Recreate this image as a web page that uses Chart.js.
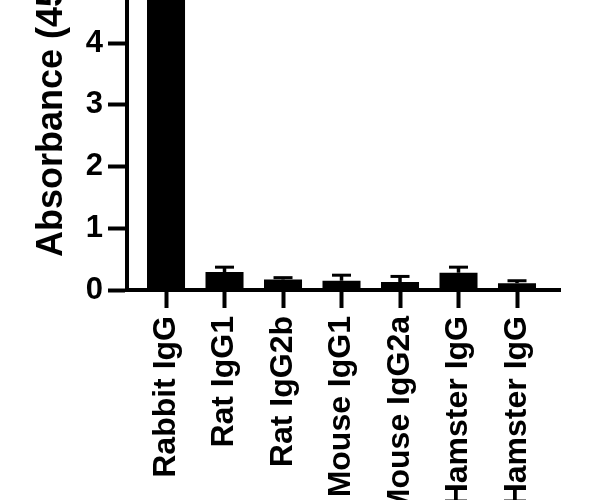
<!DOCTYPE html>
<html>
<head>
<meta charset="utf-8">
<script src="https://cdn.jsdelivr.net/npm/chart.js@4"></script>
<style>
  html, body { margin: 0; padding: 0; width: 600px; height: 500px; overflow: hidden; background: #fff; }
  #c { position: absolute; left: 0; top: -180px; }
</style>
</head>
<body>
<canvas id="c" width="600" height="680"></canvas>
<script>
const categories = ['Rabbit IgG', 'Rat IgG1', 'Rat IgG2b', 'Mouse IgG1', 'Mouse IgG2a', 'Hamster IgG', 'Hamster IgG'];
const absorbance = [6.2, 0.29, 0.17, 0.15, 0.13, 0.28, 0.11];
const errorUp = [0.3, 0.08, 0.03, 0.09, 0.09, 0.09, 0.04];
const yTicks = [0, 1, 2, 3, 4, 5, 6, 7];
const yTitle = 'Absorbance (450 nm)';

const FONT = "'Liberation Sans', Arial, sans-serif";

const errorBars = {
  id: 'errorBars',
  afterDatasetsDraw(chart) {
    const ctx = chart.ctx;
    const xs = chart.scales.x, ys = chart.scales.y;
    ctx.save();
    ctx.strokeStyle = '#000';
    absorbance.forEach((v, i) => {
      const x = xs.getPixelForValue(i);
      const yb = ys.getPixelForValue(v);
      const yt = ys.getPixelForValue(v + errorUp[i]);
      ctx.lineWidth = 3.5;
      ctx.beginPath();
      ctx.moveTo(x, yb);
      ctx.lineTo(x, yt);
      ctx.stroke();
      ctx.lineWidth = 3;
      ctx.beginPath();
      ctx.moveTo(x - 9.5, yt);
      ctx.lineTo(x + 9.5, yt);
      ctx.stroke();
    });
    ctx.restore();
  }
};

new Chart(document.getElementById('c'), {
  type: 'bar',
  data: {
    datasets: [{
      data: absorbance.map((v, i) => ({ x: i, y: v })),
      backgroundColor: '#000',
      borderWidth: 0,
      barPercentage: 0.65,
      categoryPercentage: 1
    }]
  },
  options: {
    responsive: false,
    animation: false,
    devicePixelRatio: 1,
    layout: { padding: { top: 38, right: 40, left: 0, bottom: 0 } },
    plugins: { legend: { display: false }, tooltip: { enabled: false } },
    scales: {
      x: {
        type: 'linear',
        offset: false,
        min: -0.667,
        max: 6.735,
        afterBuildTicks: s => { s.ticks = categories.map((_, i) => ({ value: i })); },
        afterFit: s => { s.height = 210; },
        ticks: {
          autoSkip: false,
          minRotation: 90,
          maxRotation: 90,
          padding: 8,
          color: '#000',
          font: { family: FONT, size: 32, weight: 'bold' },
          callback: v => categories[v]
        },
        grid: { offset: false, drawOnChartArea: false, drawTicks: true, tickLength: 18, tickWidth: 4, color: '#000' },
        border: { display: true, color: '#000', width: 4 }
      },
      y: {
        min: 0,
        max: 7,
        afterBuildTicks: s => { s.ticks = yTicks.map(v => ({ value: v })); },
        afterFit: s => { s.width = 127; },
        ticks: {
          padding: 5,
          color: '#000',
          font: { family: FONT, size: 31, weight: 'bold' }
        },
        grid: { drawOnChartArea: false, drawTicks: true, tickLength: 19, tickWidth: 4, color: '#000' },
        border: { display: true, color: '#000', width: 4 },
        title: {
          display: true,
          text: yTitle,
          color: '#000',
          padding: { top: 30, bottom: 0 },
          font: { family: FONT, size: 36, weight: 'bold' }
        }
      }
    }
  },
  plugins: [errorBars]
});
</script>
</body>
</html>
